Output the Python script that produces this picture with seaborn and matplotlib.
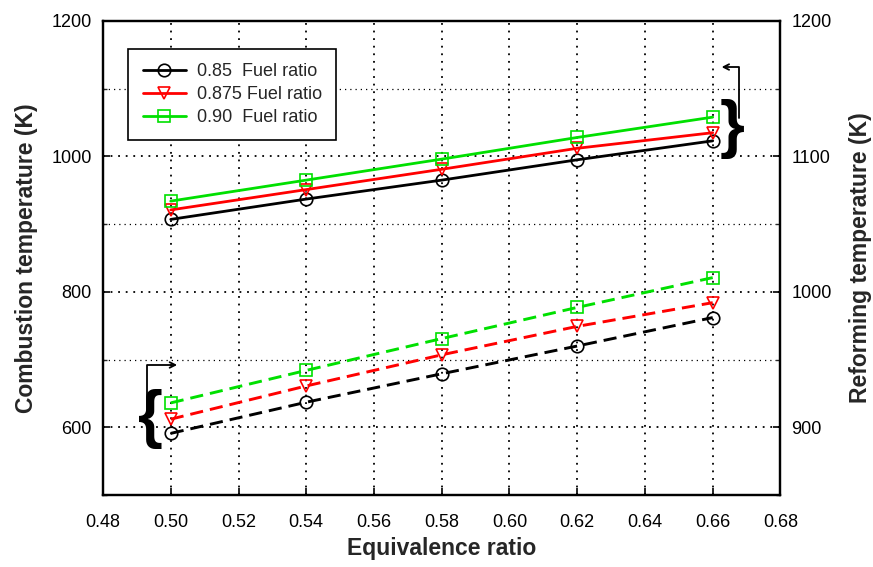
import matplotlib
matplotlib.use("Agg")
import matplotlib.pyplot as plt
from matplotlib.ticker import MultipleLocator, FormatStrFormatter
import pandas as pd
import seaborn as sns

# Equivalence ratio (x)
phi = [0.50, 0.54, 0.58, 0.62, 0.66]

# Combustion temperature (K), left axis
comb_085 = [907, 937, 965, 995, 1023]
comb_0875 = [921, 951, 981, 1012, 1035]
comb_090 = [934, 965, 996, 1028, 1058]

# Reforming temperature (K), right axis
reform_085 = [895.5, 918.5, 939.5, 960, 981]
reform_0875 = [906, 930.5, 953.5, 974.5, 992]
reform_090 = [918, 942, 965.5, 988.5, 1010.5]

labels = ["0.85  Fuel ratio", "0.875 Fuel ratio", "0.90  Fuel ratio"]
colors = ["black", "#ff0000", "#00e000"]
markers = ["o", "v", "s"]
msizes = [9, 9, 8]

sns.set_style("ticks")
plt.rcParams["font.family"] = ["Liberation Sans", "DejaVu Sans"]

fig = plt.figure(figsize=(8.73, 5.67), dpi=100)
ax1 = fig.add_axes([0.118, 0.127, 0.776, 0.836])
ax2 = ax1.twinx()

comb = [comb_085, comb_0875, comb_090]
reform = [reform_085, reform_0875, reform_090]

# Solid lines: combustion temperature on the left scale
handles = []
for c, col, mk, ms, lab in zip(comb, colors, markers, msizes, labels):
    df = pd.DataFrame({"phi": phi, "T": c})
    sns.lineplot(data=df, x="phi", y="T", ax=ax1, color=col, lw=2.0,
                 marker=mk, markersize=ms, markerfacecolor="none",
                 markeredgecolor=col, markeredgewidth=1.2,
                 legend=False, zorder=3)
    handles.append(ax1.lines[-1])

# Dashed lines: reforming temperature on the right scale
for r, col, mk, ms in zip(reform, colors, markers, msizes):
    df = pd.DataFrame({"phi": phi, "T": r})
    sns.lineplot(data=df, x="phi", y="T", ax=ax2, color=col, lw=2.1,
                 linestyle=(0, (4.5, 2.4)), marker=mk, markersize=ms,
                 markerfacecolor="none", markeredgecolor=col,
                 markeredgewidth=1.2, legend=False, zorder=3)

# Axes limits and ticks
ax1.set_xlim(0.48, 0.68)
ax1.set_ylim(500, 1200)
ax2.set_ylim(850, 1200)
ax1.xaxis.set_major_locator(MultipleLocator(0.02))
ax1.xaxis.set_major_formatter(FormatStrFormatter("%.2f"))
ax1.yaxis.set_major_locator(MultipleLocator(200))
ax1.yaxis.set_minor_locator(MultipleLocator(100))
ax2.yaxis.set_major_locator(MultipleLocator(100))
ax2.yaxis.set_minor_locator(MultipleLocator(50))

for a in (ax1, ax2):
    a.tick_params(axis="both", which="major", direction="in", length=5,
                  width=1.2, labelsize=13, colors="black", pad=8)
    a.tick_params(axis="both", which="minor", direction="in", length=3,
                  width=1.0)
    for s in a.spines.values():
        s.set_linewidth(1.6)
        s.set_color("black")
ax1.tick_params(axis="x", which="major", pad=14)

ax1.grid(True, which="major", axis="both", linestyle=(0, (1, 3.2)),
         color="black", lw=1.3)
ax1.grid(True, which="minor", axis="y", linestyle=(0, (1, 3.2)),
         color="black", lw=0.9)
ax2.grid(False)

ax1.set_xlabel("Equivalence ratio", fontsize=16.5, fontweight="bold",
               labelpad=4)
ax1.set_ylabel("Combustion temperature (K)", fontsize=16.5, fontweight="bold",
               labelpad=10)
ax2.set_ylabel("Reforming temperature (K)", fontsize=16.5, fontweight="bold",
               labelpad=12)

leg = ax2.legend(handles=handles, labels=labels, loc="upper left",
                 bbox_to_anchor=(0.037, 0.941), borderaxespad=0,
                 fancybox=False, framealpha=1, edgecolor="black",
                 fontsize=13, handlelength=2.4, labelspacing=0.32,
                 borderpad=0.8, handletextpad=0.6)
leg.get_frame().set_linewidth(1.2)

# Braces and arrows pointing each curve group to its axis
ax1.text(0.6658, 1040, "}", fontsize=46, fontweight="bold",
         ha="center", va="center", color="black")
ax1.annotate("", xy=(0.6626, 1132), xytext=(0.6679, 1056),
             arrowprops=dict(arrowstyle="->", lw=1.3, color="black",
                             shrinkA=0, shrinkB=0,
                             connectionstyle="angle,angleA=90,angleB=0,rad=0"))

ax1.text(0.4941, 612, "{", fontsize=46, fontweight="bold",
         ha="center", va="center", color="black")
ax1.annotate("", xy=(0.5019, 692), xytext=(0.4931, 612),
             arrowprops=dict(arrowstyle="->", lw=1.3, color="black",
                             shrinkA=0, shrinkB=0,
                             connectionstyle="angle,angleA=90,angleB=0,rad=0"))

fig.savefig("out.png", dpi=100)
